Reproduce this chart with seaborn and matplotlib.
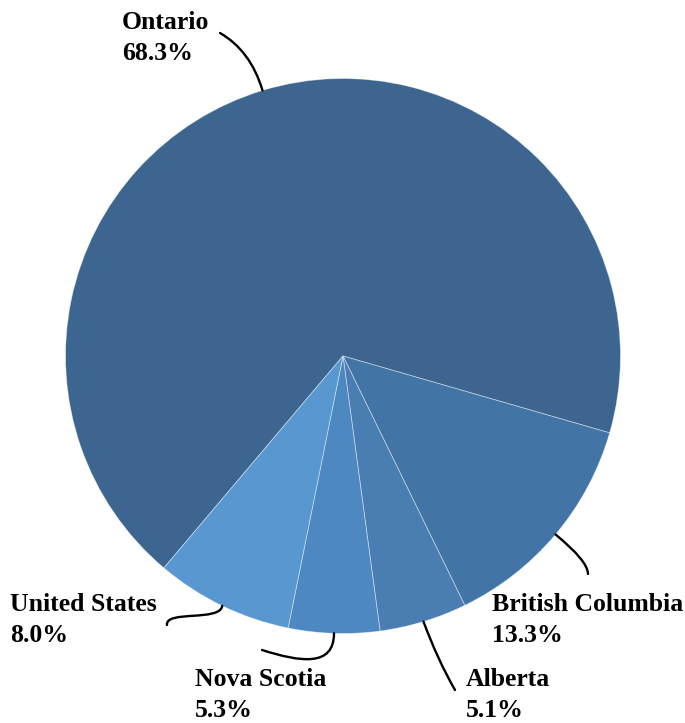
import numpy as np
import matplotlib
matplotlib.use("Agg")
import matplotlib.pyplot as plt
from matplotlib.path import Path
from matplotlib.patches import PathPatch
import seaborn as sns

# Share of the total by province / country
regions = ["Ontario", "British Columbia", "Alberta", "Nova Scotia", "United States"]
shares = [68.3, 13.3, 5.1, 5.3, 8.0]
colors = ["#3c6690", "#4275a5", "#4a7eb2", "#4e88c1", "#5897d0"]

sns.set_theme(style="white")
plt.rcParams["font.family"] = ["Liberation Serif", "DejaVu Serif"]

W, H = 685, 723
fig = plt.figure(figsize=(W / 100, H / 100), dpi=100)
ax = fig.add_axes([0, 0, 1, 1])

cx, cy, R = 343, H - 356, 277.5
wedges, _ = ax.pie(
    shares, colors=colors, startangle=229.8, counterclock=False,
    center=(cx, cy), radius=R, frame=True,
    wedgeprops=dict(linewidth=0.6, edgecolor=(1, 1, 1, 0.45)),
)
ax.set_xlim(0, W)
ax.set_ylim(0, H)
ax.set_aspect("equal")
ax.axis("off")


def rim_point(w):
    a = np.deg2rad((w.theta1 + w.theta2) / 2)
    return cx + R * np.cos(a), H - (cy + R * np.sin(a))


def leader(verts, codes):
    p = Path([(x, H - y) for x, y in verts], codes)
    ax.add_patch(PathPatch(p, fill=False, lw=1.7, ec="black", capstyle="round"))


C3, C4 = Path.CURVE3, Path.CURVE4
# leader lines start at each wedge's mid-angle on the rim
starts = [rim_point(w) for w in wedges]

x0, y0 = starts[0]
leader([(x0, y0), (x0 - 12, y0 - 40), (220, 33)], [Path.MOVETO, C3, C3])
x0, y0 = starts[1]
leader([(x0, y0), (588, 561), (588, 574)], [Path.MOVETO, C3, C3])
x0, y0 = starts[2]
leader([(x0, y0), (x0 + 14, y0 + 38), (455, 690)], [Path.MOVETO, C3, C3])
x0, y0 = starts[3]
leader([(x0, y0), (x0, y0 + 34), (300, 662), (262, 650)],
       [Path.MOVETO, C4, C4, C4])
x0, y0 = starts[4]
leader([(x0, y0), (x0 - 2, y0 + 16), (165, 610), (167, 625)],
       [Path.MOVETO, C4, C4, C4])

label_pos = {
    "Ontario": (122, 29),
    "British Columbia": (492, 611),
    "Alberta": (466, 686),
    "Nova Scotia": (195, 686),
    "United States": (10, 611),
}
for name, val in zip(regions, shares):
    x, yb = label_pos[name]
    ax.text(x, H - yb, name, fontsize=18.5, fontweight="bold",
            ha="left", va="baseline", color="black")
    ax.text(x, H - yb - 31, f"{val:.1f}%", fontsize=18.5, fontweight="bold",
            ha="left", va="baseline", color="black")

fig.savefig("out.png", dpi=100, facecolor="white")
